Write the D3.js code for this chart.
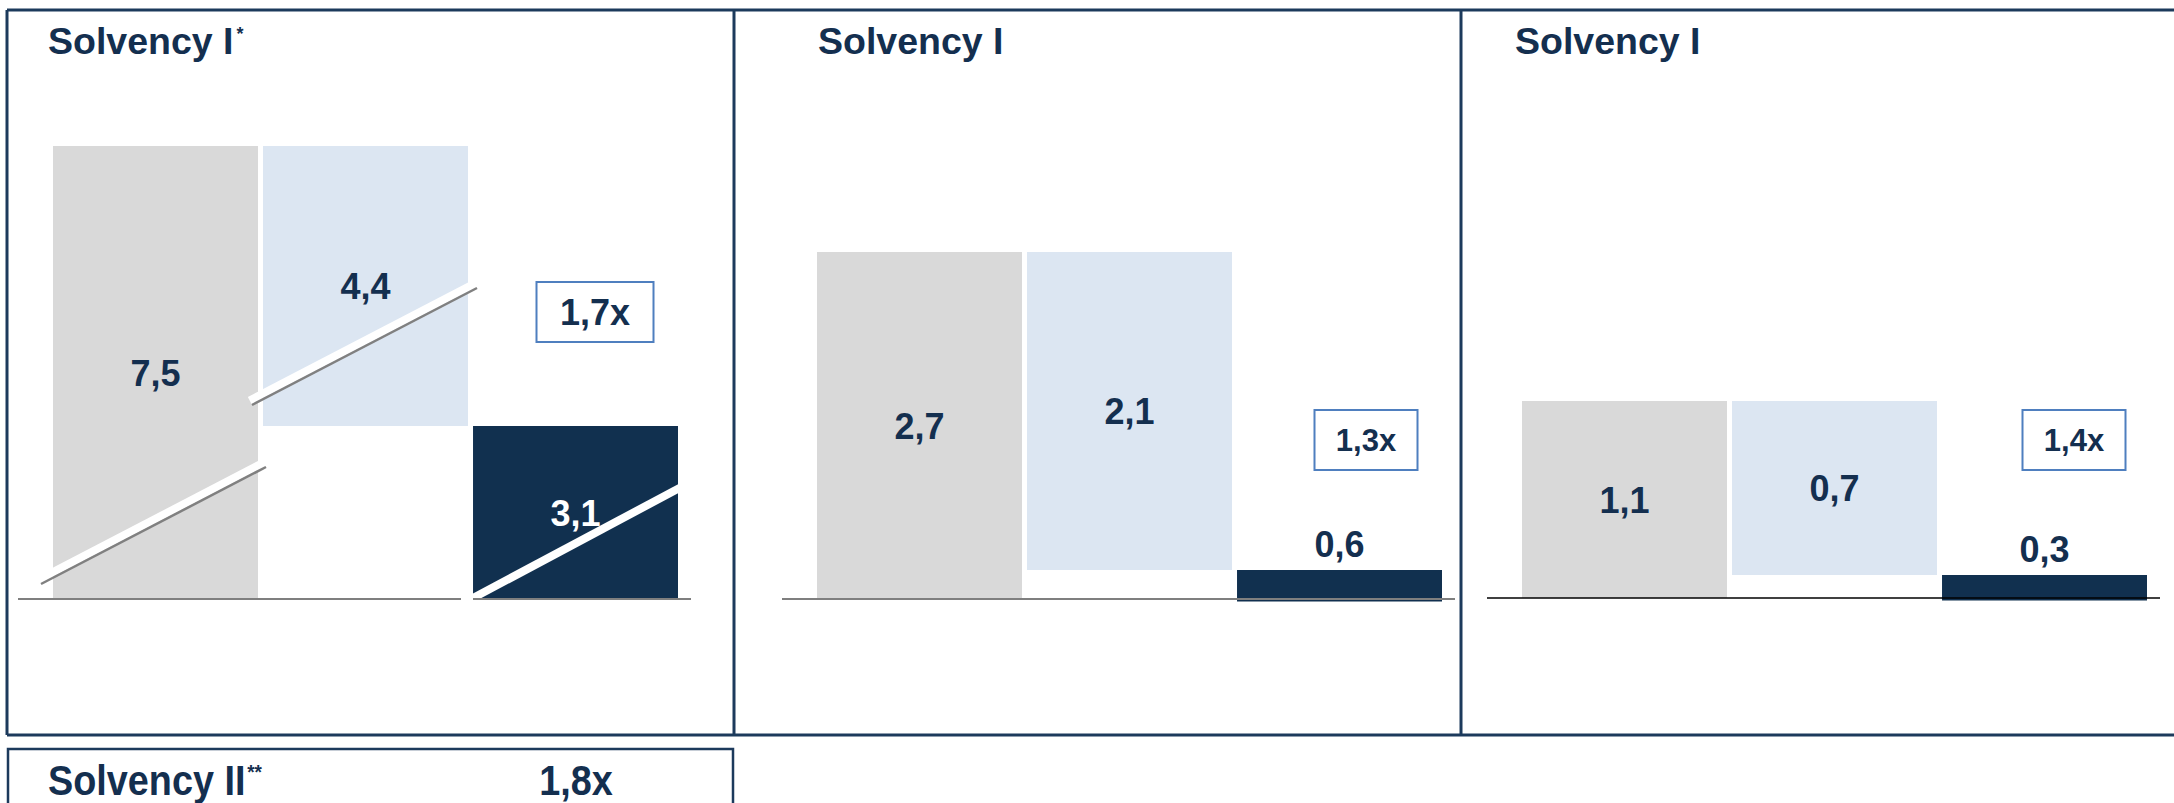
<!DOCTYPE html>
<html>
<head>
<meta charset="utf-8">
<script src="https://cdn.jsdelivr.net/npm/d3@7"></script>
<style>
  html, body { margin: 0; padding: 0; background: #fff; }
  svg { display: block; font-family: "Liberation Sans", Arial, sans-serif; font-weight: bold; }
</style>
</head>
<body>
<div id="chart"></div>
<script>
// values per panel (left to right)
const panelTitles = ["Solvency I", "Solvency I", "Solvency I"];
const titleMarks = ["*", "", ""];
const totalValues = [7.5, 2.7, 1.1];     // grey bar
const deductValues = [4.4, 2.1, 0.7];    // light blue floating bar
const remainValues = [3.1, 0.6, 0.3];    // navy bar
const ratioLabels = ["1,7x", "1,3x", "1,4x"];
const barKeys = ["total", "deduct", "remain"];
const footTitle = "Solvency II";
const footMark = "**";
const footRatio = "1,8x";

const width = 2174;
const height = 803;
const navy = "#11304f";
const textColor = "#142f4f";
const frameColor = "#1c3a5c";
const colors = { total: "#d9d9d9", deduct: "#dce6f2", remain: navy };

// layout per panel: bar area, broken value scale, baseline, ratio box
const layout = [
  { left: 7, titleX: 48, barX: 53, base: 599, mid: 426, top: 146, drop: 0,
    rule: [[18, 461], [473, 691]], ruleColor: "#7f7f7f", ruleWidth: 2,
    box: { cx: 595, cy: 312, w: 117, h: 60, size: 36 }, remainInside: true },
  { left: 734, titleX: 818, barX: 817, base: 599, mid: 570, top: 252, drop: 2.5,
    rule: [[782, 1455]], ruleColor: "#7f7f7f", ruleWidth: 2,
    box: { cx: 1366, cy: 440, w: 103, h: 60, size: 31 }, remainInside: false },
  { left: 1461, titleX: 1515, barX: 1522, base: 598, mid: 575, top: 401, drop: 2.5,
    rule: [[1487, 2160]], ruleColor: "#000", ruleWidth: 1.5,
    box: { cx: 2074, cy: 440, w: 103, h: 60, size: 31 }, remainInside: false },
];

// axis break marks of the first panel: [x1, y1, x2, y2, grey edge?]
const breakMarks = [
  [41, 584, 266, 467, true],
  [252, 405, 477, 288, true],
  [473, 598, 687, 484, false],
];

const svg = d3.select("#chart").append("svg")
  .attr("width", width).attr("height", height);

svg.append("rect").attr("width", width).attr("height", height).attr("fill", "#fff");

layout.forEach((p, i) => {
  const g = svg.append("g");
  const x = d3.scaleBand().domain(barKeys).range([p.barX, p.barX + 625]).paddingInner(0.024);
  // broken scale: the bars are not drawn to one linear scale
  const y = d3.scaleLinear()
    .domain([0, remainValues[i], totalValues[i]])
    .range([p.base, p.mid, p.top]);

  const bars = [
    { key: "total", lo: 0, hi: totalValues[i], value: totalValues[i] },
    { key: "deduct", lo: remainValues[i], hi: totalValues[i], value: deductValues[i] },
    { key: "remain", lo: 0, hi: remainValues[i], value: remainValues[i] },
  ];

  g.selectAll("rect.bar").data(bars).join("rect")
    .attr("class", "bar")
    .attr("x", (d) => x(d.key))
    .attr("width", x.bandwidth())
    .attr("y", (d) => y(d.hi))
    .attr("height", (d) => y(d.lo) - y(d.hi) + (d.key === "remain" ? p.drop : 0))
    .attr("fill", (d) => colors[d.key]);

  if (i === 0) {
    breakMarks.forEach(([x1, y1, x2, y2, edge]) => {
      const len = Math.hypot(x2 - x1, y2 - y1);
      const nx = (y2 - y1) / len, ny = -(x2 - x1) / len;
      const off = edge ? 5 : 0;
      g.append("line")
        .attr("x1", x1 + nx * off).attr("y1", y1 + ny * off)
        .attr("x2", x2 + nx * off).attr("y2", y2 + ny * off)
        .attr("stroke", "#fff").attr("stroke-width", 8);
      if (edge) {
        g.append("line")
          .attr("x1", x1).attr("y1", y1).attr("x2", x2).attr("y2", y2)
          .attr("stroke", "#808080").attr("stroke-width", 2.5);
      }
    });
  }

  p.rule.forEach(([a, b]) => {
    g.append("line")
      .attr("x1", a).attr("x2", b).attr("y1", p.base).attr("y2", p.base)
      .attr("stroke", p.ruleColor).attr("stroke-width", p.ruleWidth);
  });

  // value labels
  g.selectAll("text.val").data(bars).join("text")
    .attr("class", "val")
    .attr("x", (d) => x(d.key) + x.bandwidth() / 2)
    .attr("y", (d) => {
      if (d.key === "remain" && !p.remainInside) return y(d.hi) - 13;
      return (y(d.hi) + y(d.lo)) / 2 + 13;
    })
    .attr("text-anchor", "middle")
    .attr("font-size", 36)
    .attr("fill", (d) => (d.key === "remain" && p.remainInside ? "#fff" : textColor))
    .text((d) => d3.format(".1f")(d.value).replace(".", ","));

  // ratio box
  const b = p.box;
  g.append("rect")
    .attr("x", b.cx - b.w / 2).attr("y", b.cy - b.h / 2)
    .attr("width", b.w).attr("height", b.h)
    .attr("fill", "#fff").attr("stroke", "#4f7fbf").attr("stroke-width", 2);
  g.append("text")
    .attr("x", b.cx).attr("y", b.cy + b.size * 0.36)
    .attr("text-anchor", "middle")
    .attr("font-size", b.size)
    .attr("fill", textColor)
    .text(ratioLabels[i]);

  const t = g.append("text")
    .attr("x", p.titleX).attr("y", 54)
    .attr("font-size", 37.5)
    .attr("fill", textColor)
    .text(panelTitles[i]);
  if (titleMarks[i]) {
    t.append("tspan").attr("font-size", 18).attr("dy", -14).attr("dx", 3).text(titleMarks[i]);
  }
});

// panel frames
const frame = svg.append("g")
  .attr("stroke", frameColor).attr("stroke-width", 3).attr("fill", "none");
frame.append("line").attr("x1", 7).attr("x2", width).attr("y1", 10).attr("y2", 10);
frame.append("line").attr("x1", 7).attr("x2", width).attr("y1", 735).attr("y2", 735);
frame.selectAll("line.v").data(layout).join("line")
  .attr("class", "v")
  .attr("x1", (d) => d.left).attr("x2", (d) => d.left)
  .attr("y1", 10).attr("y2", 735);

// Solvency II row
svg.append("rect")
  .attr("x", 8).attr("y", 749).attr("width", 725).attr("height", 90)
  .attr("fill", "none").attr("stroke", frameColor).attr("stroke-width", 2.5);
const foot = svg.append("text")
  .attr("transform", "translate(48,795) scale(0.9,1)")
  .attr("font-size", 42)
  .attr("fill", textColor)
  .text(footTitle);
foot.append("tspan").attr("font-size", 21).attr("dy", -16).attr("dx", 2).text(footMark);
svg.append("text")
  .attr("transform", "translate(576,795) scale(0.9,1)")
  .attr("text-anchor", "middle")
  .attr("font-size", 42)
  .attr("fill", textColor)
  .text(footRatio);
</script>
</body>
</html>
